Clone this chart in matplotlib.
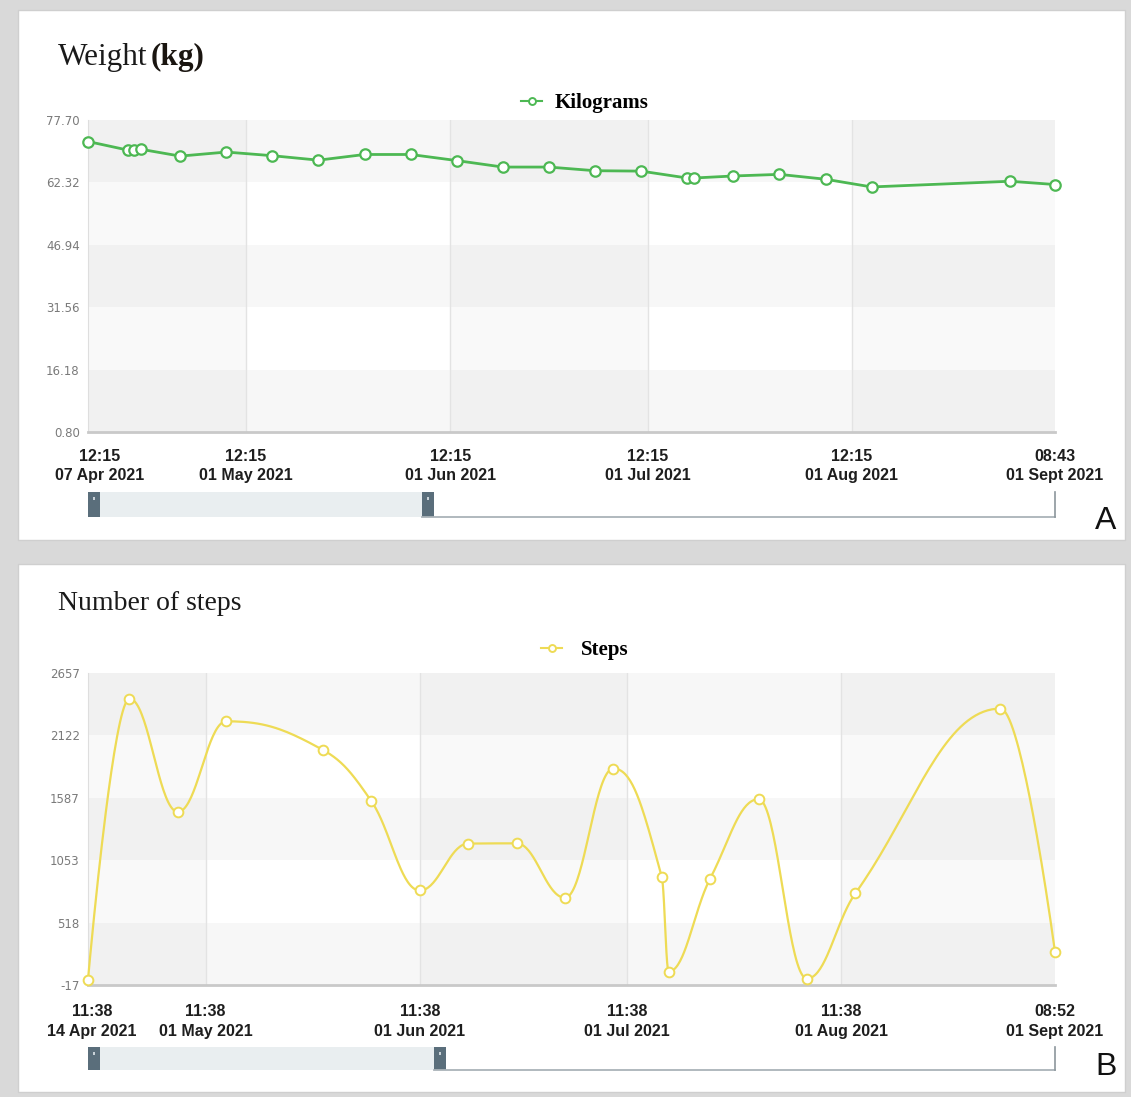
""" Weight / steps tracking charts (two stacked panels) """

import datetime as dt
import numpy as np
import matplotlib
matplotlib.use("Agg")
import matplotlib.pyplot as plt
import matplotlib.dates as mdates
import matplotlib.transforms as mtransforms
from matplotlib.lines import Line2D
from matplotlib.patches import Rectangle

W, H = 1131, 1097


def d(month, day, hh=12, mm=15):
    return dt.datetime(2021, month, day, hh, mm)


# ---- panel A data: weight (kg) ----
weight_dates = [d(4, 7), d(4, 13), d(4, 14), d(4, 15), d(4, 21), d(4, 28), d(5, 5), d(5, 12),
                d(5, 19), d(5, 26), d(6, 2), d(6, 9), d(6, 16), d(6, 23), d(6, 30), d(7, 7),
                d(7, 8), d(7, 14), d(7, 21), d(7, 28), d(8, 4), d(8, 25), d(9, 1, 8, 43)]
weight_kg = [72.4, 70.3, 70.4, 70.5, 68.8, 69.8, 68.9, 67.8,
             69.2, 69.2, 67.7, 66.1, 66.1, 65.2, 65.1, 63.4,
             63.4, 63.9, 64.3, 63.1, 61.2, 62.6, 61.8]
weight_yticks = [0.80, 16.18, 31.56, 46.94, 62.32, 77.70]
weight_ylabels = ["0.80", "16.18", "31.56", "46.94", "62.32", "77.70"]
weight_xticks = [d(4, 7), d(5, 1), d(6, 1), d(7, 1), d(8, 1), d(9, 1, 8, 43)]
weight_xlabels = ["12:15\n07 Apr 2021", "12:15\n01 May 2021", "12:15\n01 Jun 2021",
                  "12:15\n01 Jul 2021", "12:15\n01 Aug 2021", "08:43\n01 Sept 2021"]

# ---- panel B data: number of steps ----
steps_dates = [d(4, 14, 11, 38), d(4, 20, 11, 38), d(4, 27, 11, 38), d(5, 4, 11, 38),
               d(5, 18, 11, 38), d(5, 25, 11, 38), d(6, 1, 11, 38), d(6, 8, 11, 38),
               d(6, 15, 11, 38), d(6, 22, 11, 38), d(6, 29, 11, 38), d(7, 6, 11, 38),
               d(7, 7, 11, 38), d(7, 13, 11, 38), d(7, 20, 11, 38), d(7, 27, 11, 38),
               d(8, 3, 11, 38), d(8, 24, 11, 38), d(9, 1, 8, 52)]
steps_count = [30, 2437, 1467, 2243, 1997, 1558, 793, 1195, 1197, 731,
               1838, 909, 98, 895, 1575, 38, 768, 2352, 265]
steps_yticks = [-17, 518, 1053, 1587, 2122, 2657]
steps_ylabels = ["-17", "518", "1053", "1587", "2122", "2657"]
steps_xticks = [d(4, 14, 11, 38), d(5, 1, 11, 38), d(6, 1, 11, 38), d(7, 1, 11, 38),
                d(8, 1, 11, 38), d(9, 1, 8, 52)]
steps_xlabels = ["11:38\n14 Apr 2021", "11:38\n01 May 2021", "11:38\n01 Jun 2021",
                 "11:38\n01 Jul 2021", "11:38\n01 Aug 2021", "08:52\n01 Sept 2021"]

GREEN = "#4db853"
YELLOW = "#eedb55"
TICK_FONT = ["Liberation Sans Narrow", "Liberation Sans"]
SERIF = ["Liberation Serif", "DejaVu Serif"]


def spline(x, y, n=40, smoothing=1.5):
    """ highcharts-like spline: cubic bezier with control points from the neighbours """
    x = np.asarray(x, float)
    y = np.asarray(y, float)
    lcx, lcy, rcx, rcy = x.copy(), y.copy(), x.copy(), y.copy()
    den = smoothing + 1
    for i in range(1, len(x) - 1):
        lx = (smoothing * x[i] + x[i - 1]) / den
        ly = (smoothing * y[i] + y[i - 1]) / den
        rx = (smoothing * x[i] + x[i + 1]) / den
        ry = (smoothing * y[i] + y[i + 1]) / den
        corr = (ry - ly) * (rx - x[i]) / (rx - lx) + y[i] - ry
        ly += corr
        ry += corr
        # no false extremes
        if ly > y[i - 1] and ly > y[i]:
            ly = max(y[i - 1], y[i]); ry = 2 * y[i] - ly
        elif ly < y[i - 1] and ly < y[i]:
            ly = min(y[i - 1], y[i]); ry = 2 * y[i] - ly
        if ry > y[i + 1] and ry > y[i]:
            ry = max(y[i + 1], y[i]); ly = 2 * y[i] - ry
        elif ry < y[i + 1] and ry < y[i]:
            ry = min(y[i + 1], y[i]); ly = 2 * y[i] - ry
        lcx[i], lcy[i], rcx[i], rcy[i] = lx, ly, rx, ry
    t = np.linspace(0, 1, n)
    xs, ys = [], []
    for i in range(len(x) - 1):
        a, b, c = (1 - t) ** 3, 3 * (1 - t) ** 2 * t, 3 * (1 - t) * t ** 2
        e = t ** 3
        xs.append(a * x[i] + b * rcx[i] + c * lcx[i + 1] + e * x[i + 1])
        ys.append(a * y[i] + b * rcy[i] + c * lcy[i + 1] + e * y[i + 1])
    return np.concatenate(xs), np.concatenate(ys)


def px_axes(left, top, right, bottom):
    return fig.add_axes([left / W, 1 - bottom / H, (right - left) / W, (bottom - top) / H])


def style_axes(ax, yticks, ylabels, xticks, xlabels, xpad, first_shift):
    xnum = mdates.date2num(xticks)
    ax.set_xlim(xnum[0], xnum[-1])
    ax.set_ylim(yticks[0], yticks[-1])
    ax.patch.set_alpha(0)
    # alternating row / column bands
    for i in range(len(yticks) - 1):
        if i % 2 == 0:
            ax.axhspan(yticks[i], yticks[i + 1], color="black", alpha=0.032, lw=0, zorder=0)
    for i in range(len(xnum) - 1):
        if i % 2 == 0:
            ax.axvspan(xnum[i], xnum[i + 1], color="black", alpha=0.022, lw=0, zorder=0)
    for xv in xnum[1:-1]:
        ax.axvline(xv, color="#e3e3e3", lw=1, zorder=0.5)
    for s in ["top", "right"]:
        ax.spines[s].set_visible(False)
    ax.spines["left"].set_color("#dedede")
    ax.spines["bottom"].set_color("#c9c9c9")
    ax.spines["bottom"].set_linewidth(2)
    ax.set_yticks(yticks)
    ax.set_yticklabels(ylabels, color="#7a7a7a", fontsize=8.5, family="DejaVu Sans")
    ax.set_xticks(xnum)
    labels = ax.set_xticklabels(xlabels, fontsize=11.5, fontweight="bold", family=TICK_FONT,
                                color="#1e1e1e", linespacing=1.35)
    ax.tick_params(length=0)
    ax.tick_params(axis="x", pad=xpad)
    ax.tick_params(axis="y", pad=6)
    # first label is pushed inside, like the original chart does
    shift = mtransforms.ScaledTranslation(first_shift / 100, 0, fig.dpi_scale_trans)
    labels[0].set_transform(labels[0].get_transform() + shift)


def navigator(top, bottom, handle2):
    # little range-selector bar under the chart
    h = (bottom - top) / H
    y0 = 1 - bottom / H
    fig.add_artist(Rectangle((88 / W, y0), (handle2 - 88) / W, h, transform=fig.transFigure,
                             facecolor="#e9eef0", edgecolor="none"))
    fig.add_artist(Line2D([handle2 / W, 1055 / W], [y0, y0], transform=fig.transFigure,
                          color="#aab3b9", lw=1.3))
    fig.add_artist(Line2D([1055 / W, 1055 / W], [y0, y0 + h], transform=fig.transFigure,
                          color="#8c969c", lw=1.2))
    for hx in (88, handle2):
        fig.add_artist(Rectangle((hx / W, y0), 12 / W, h, transform=fig.transFigure,
                                 facecolor="#5a6e7b", edgecolor="none"))
        fig.add_artist(Rectangle(((hx + 5) / W, y0 + h - 8 / H), 2 / W, 3 / H,
                                 transform=fig.transFigure, facecolor="#c9d2d8",
                                 edgecolor="none"))


fig = plt.figure(figsize=(W / 100, H / 100), dpi=100)
fig.patch.set_facecolor("#d9d9d9")

# white panel boxes (behind the axes)
for top, bottom in ((10, 540), (564, 1092)):
    fig.add_artist(Rectangle((18 / W, 1 - bottom / H), 1107 / W, (bottom - top) / H,
                             transform=fig.transFigure, facecolor="white",
                             edgecolor="#cfcfcf", lw=1, zorder=-5))

# ---------------- panel A ----------------
axA = px_axes(88, 120, 1055, 432)
style_axes(axA, weight_yticks, weight_ylabels, weight_xticks, weight_xlabels, 12, 12)
wx = mdates.date2num(weight_dates)
axA.plot(wx, weight_kg, color=GREEN, lw=2, zorder=3, clip_on=False)
axA.plot(wx, weight_kg, ls="none", marker="o", ms=7.5, mfc="white", mec=GREEN, mew=1.6,
         zorder=4, clip_on=False)
handleA = Line2D([], [], color=GREEN, lw=1.5, marker="o", ms=5, mfc="white", mec=GREEN, mew=1.4)
axA.legend([handleA], ["Kilograms"], loc="center", bbox_to_anchor=(0.514, 1.055),
           frameon=False, handlelength=1.0, handletextpad=0.6,
           prop=dict(family=SERIF, weight="bold", size=15))

fig.text(58 / W, 1 - 57 / H, "Weight", family=SERIF, fontsize=22.5, color="#1a1a1a",
         ha="left", va="center")
fig.text(151 / W, 1 - 57 / H, "(kg)", family=SERIF, fontsize=22.5, fontweight="bold",
         color="#1a1510", ha="left", va="center")
navigator(492, 517, 422)
fig.text(1106 / W, 1 - 521 / H, "A", family="Liberation Sans", fontsize=23, ha="center",
         va="center", color="#111111")

# ---------------- panel B ----------------
axB = px_axes(88, 673, 1055, 985)
style_axes(axB, steps_yticks, steps_ylabels, steps_xticks, steps_xlabels, 14, 4)
sx = mdates.date2num(steps_dates)
cx, cy = spline(sx, steps_count)
axB.plot(cx, cy, color=YELLOW, lw=1.6, zorder=3, clip_on=False)
axB.plot(sx, steps_count, ls="none", marker="o", ms=7, mfc="white", mec=YELLOW, mew=1.4,
         zorder=4, clip_on=False)
handleB = Line2D([], [], color=YELLOW, lw=1.5, marker="o", ms=5, mfc="white", mec=YELLOW, mew=1.4)
axB.legend([handleB], ["Steps"], loc="center", bbox_to_anchor=(0.514, 1.074),
           frameon=False, handlelength=1.0, handletextpad=0.9,
           prop=dict(family=SERIF, weight="bold", size=15))

fig.text(58 / W, 1 - 604 / H, "Number of steps", family=SERIF, fontsize=20,
         color="#1a1a1a", ha="left", va="center")
navigator(1047, 1070, 434)
fig.text(1106 / W, 1 - 1067 / H, "B", family="Liberation Sans", fontsize=23, ha="center",
         va="center", color="#111111")

plt.savefig("out.png", dpi=100)
